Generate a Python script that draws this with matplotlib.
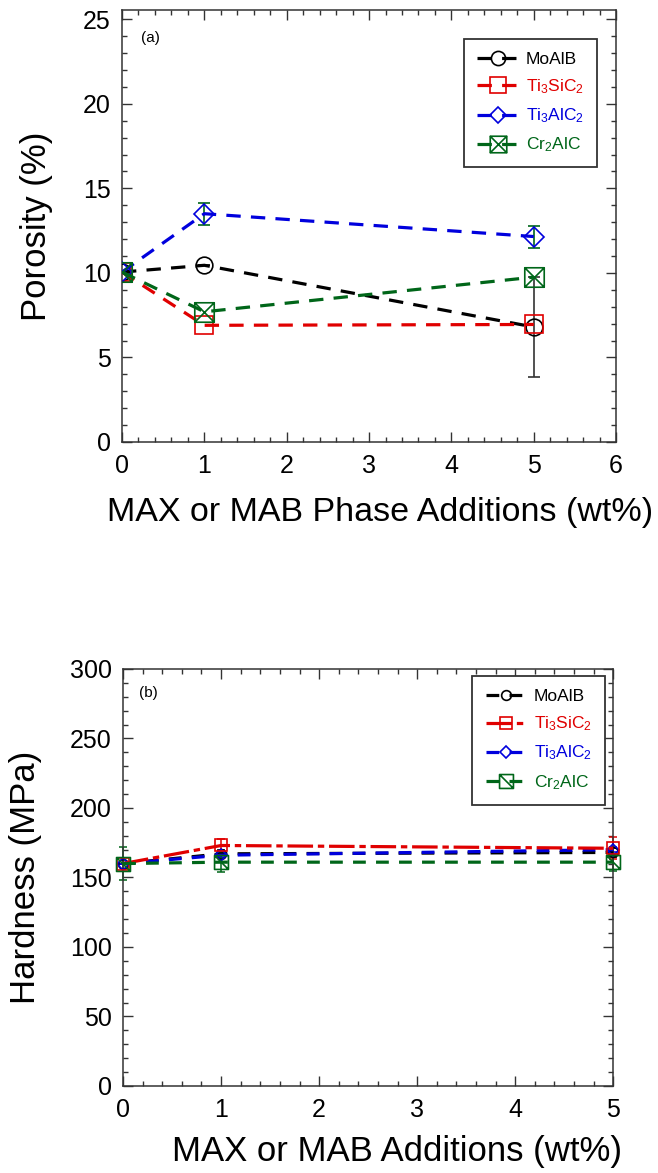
import matplotlib
matplotlib.use("Agg")
import matplotlib.pyplot as plt
from matplotlib.path import Path
from matplotlib.ticker import MultipleLocator

plt.rcParams['font.family'] = ['Liberation Sans', 'DejaVu Sans']
plt.rcParams['mathtext.fontset'] = 'custom'
plt.rcParams['mathtext.rm'] = 'Liberation Sans'
plt.rcParams['mathtext.it'] = 'Liberation Sans'

# data
labels = ['MoAlB', r'Ti$_3$SiC$_2$', r'Ti$_3$AlC$_2$', r'Cr$_2$AlC']
colors = ['black', '#e00000', '#0000dd', '#006619']

x_por = [0, 1, 5]
porosity = [
    [10.05, 10.45, 6.8],   # MoAlB
    [10.05, 6.9, 6.95],    # Ti3SiC2
    [10.05, 13.5, 12.15],  # Ti3AlC2
    [10.05, 7.7, 9.75],    # Cr2AlC
]
porosity_err = [
    [0, 0, 2.95],
    [0, 0, 0],
    [0, 0.65, 0.65],
    [0, 0, 0],
]

x_hard = [0, 1, 5]
hardness = [
    [160, 167, 168],  # MoAlB
    [160, 173, 171],  # Ti3SiC2
    [160, 166, 170],  # Ti3AlC2
    [160, 161, 161],  # Cr2AlC
]
hardness_err = [
    [0, 3, 3],
    [0, 5, 8],
    [0, 2, 2],
    [12, 7, 6],
]


def box_marker(diagonals):
    """Square outline with diagonal strokes, like the KaleidaGraph symbols."""
    verts = [(-1, -1), (1, -1), (1, 1), (-1, 1), (-1, -1)]
    codes = [Path.MOVETO, Path.LINETO, Path.LINETO, Path.LINETO, Path.CLOSEPOLY]
    verts += [(-1, 1), (1, -1)]
    codes += [Path.MOVETO, Path.LINETO]
    if diagonals == 2:
        verts += [(-1, -1), (1, 1)]
        codes += [Path.MOVETO, Path.LINETO]
    return Path(verts, codes)


def style_axes(ax, xmax, ymax, xminor, ymajor, yminor):
    ax.set_xlim(0, xmax)
    ax.set_ylim(0, ymax)
    ax.xaxis.set_major_locator(MultipleLocator(1))
    ax.xaxis.set_minor_locator(MultipleLocator(xminor))
    ax.yaxis.set_major_locator(MultipleLocator(ymajor))
    ax.yaxis.set_minor_locator(MultipleLocator(yminor))
    ax.tick_params(which='both', direction='in', top=True, right=True,
                   labelsize=18, color='#333333')
    ax.tick_params(which='major', length=7, width=1)
    ax.tick_params(which='minor', length=3.5, width=1)
    ax.tick_params(axis='x', which='major', pad=9)
    ax.tick_params(axis='y', which='major', pad=8)
    for sp in ax.spines.values():
        sp.set_linewidth(1.1)
        sp.set_color('#333333')


fig = plt.figure(figsize=(6.58, 11.73), dpi=100)

# ---- (a) porosity
ax1 = fig.add_axes([0.1854, 0.6232, 0.751, 0.3683])
markers_a = ['o', 's', 'D', box_marker(2)]
sizes_a = [12, 13, 10, 14]
for i in range(4):
    ax1.plot(x_por, porosity[i], color=colors[i], lw=2.3, dashes=(4.5, 3.2),
             marker=markers_a[i], ms=sizes_a[i], mfc='none', mec=colors[i],
             mew=1.2, label=labels[i], zorder=3 + i)
err_cols_a = ['#333333', colors[1], colors[3], colors[3]]
for i in range(4):
    if any(porosity_err[i]):
        ax1.errorbar(x_por, porosity[i], yerr=porosity_err[i], fmt='none',
                     ecolor=err_cols_a[i], elinewidth=1.2, capsize=4, capthick=1.2,
                     zorder=2)
style_axes(ax1, 6, 25.55, 0.2, 5, 1)
ax1.set_xlabel('MAX or MAB Phase Additions (wt%)', fontsize=24.5)
ax1.xaxis.set_label_coords(0.522, -0.127)
ax1.set_ylabel('Porosity (%)', fontsize=25)
ax1.yaxis.set_label_coords(-0.14, 0.5)
ax1.text(0.057, 0.935, '(a)', transform=ax1.transAxes, fontsize=11,
         ha='center', va='center')
leg1 = ax1.legend(loc='upper right', bbox_to_anchor=(0.9615, 0.933),
                  borderaxespad=0, fontsize=12.5, labelcolor='linecolor',
                  fancybox=False, edgecolor='#333333', framealpha=1,
                  handlelength=2.4, labelspacing=0.6, borderpad=0.75,
                  handletextpad=0.4, markerscale=0.85)
leg1.get_frame().set_linewidth(1.3)

# ---- (b) hardness
ax2 = fig.add_axes([0.187, 0.0742, 0.745, 0.3555])
markers_b = ['o', 's', 'D', box_marker(1)]
sizes_b = [7, 9, 6, 10]
dash_b = [(4, 3.2), (8, 1.5, 2, 1.5), (4, 3.2), (4, 3.2)]
z_b = [3, 5, 4, 6]
for i in range(4):
    ax2.plot(x_hard, hardness[i], color=colors[i], lw=2.3, dashes=dash_b[i],
             marker=markers_b[i], ms=sizes_b[i], mfc='none', mec=colors[i],
             mew=1.2, label=labels[i], zorder=z_b[i], clip_on=False)
for i in range(4):
    ax2.errorbar(x_hard, hardness[i], yerr=hardness_err[i], fmt='none',
                 ecolor=colors[i], elinewidth=1.1, capsize=3, capthick=1.1,
                 zorder=2, clip_on=False)
style_axes(ax2, 5, 300, 0.2, 50, 10)
ax2.set_xlabel('MAX or MAB Additions (wt%)', fontsize=25)
ax2.xaxis.set_label_coords(0.559, -0.118)
ax2.set_ylabel('Hardness (MPa)', fontsize=25)
ax2.yaxis.set_label_coords(-0.165, 0.5)
ax2.text(0.051, 0.942, '(b)', transform=ax2.transAxes, fontsize=11,
         ha='center', va='center')
leg2 = ax2.legend(loc='upper right', bbox_to_anchor=(0.9837, 0.983),
                  borderaxespad=0, fontsize=12.5, labelcolor='linecolor',
                  fancybox=False, edgecolor='#333333', framealpha=1,
                  handlelength=2.4, labelspacing=0.6, borderpad=0.75,
                  handletextpad=0.4)
leg2.get_frame().set_linewidth(1.3)

fig.savefig('out.png', dpi=100)
